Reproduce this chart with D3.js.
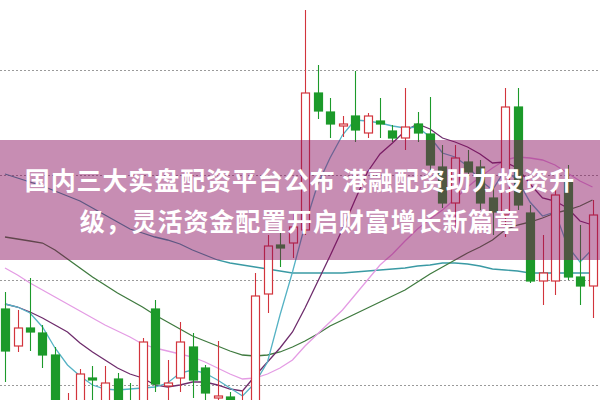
<!DOCTYPE html>
<html><head><meta charset="utf-8">
<script src="https://cdn.jsdelivr.net/npm/d3@7"></script>
<style>html,body{margin:0;padding:0;background:#fff;overflow:hidden}</style>
</head><body><svg id="c" width="600" height="400"></svg>
<script>
// Candle data (price units), index = trading day
const openV  = [91,54,72,67,45,-30,-20,22,-10,21,-2,-10,91,14,22,53,32,2,3,-20,-20,106,155,157,170,307,288,274,284,267,279,269,262,276,266,233,197,238,233,202,185,293,187,119,119,220,123,114];
const closeV = [49,72,68,45,-12,-5,26,20,17,-10,-20,58,16,17,58,20,7,4,-10,-2,104,154,152,173,307,289,276,276,270,284,276,262,273,267,235,197,242,228,197,188,293,195,119,127,205,123,114,185];
const highV  = [108,90,122,75,53,7,31,34,34,27,17,62,100,40,78,67,35,59,8,10,127,165,180,188,390,335,302,284,329,287,302,275,312,288,303,255,255,250,240,220,312,312,195,165,220,235,175,200];
const lowV   = [18,48,49,32,-20,-40,-25,-5,-15,-20,-25,-15,8,-2,8,2,0,-10,-15,-25,-25,87,133,142,165,281,262,263,258,262,262,258,250,258,230,192,167,220,190,165,163,190,117,95,105,120,95,82];
// Moving averages
const ma5  = [96,93,87,73,52,35,24,15,11,10,11,12,13,17,27,30,27,20,12,4,17,38,85,128,175,215,242,265,280,279,277,274,272,273,263,247,243,234,220,210,230,220,198,184,188,154,138,151];
const ma10 = [96,93,88,82,75,68,57,48,40,32,26,22,15,13,15,18,18,15,11,9,24,38,52,68,92,118,144,171,200,228,246,257,269,276,271,262,258,253,246,237,238,232,216,202,199,192,179,175];
const ma20 = [132,125,117,110,103,96,89,82,75,69,63,56,52,49,46,43,38,32,26,21,22,26,32,40,54,66,78,90,105,120,135,146,159,171,181,190,201,213,223,232,240,243,242,240,235,227,219,213];
const ma30 = [163,161,159,157,150,141,132,123,115,107,100,93,85,78,71,64,59,54,49,45,44,45,48,53,59,66,74,80,86,92,98,104,110,118,126,133,140,147,153,160,170,175,178,182,187,190,194,200];
const ma60 = [226,222,218,214,209,204,199,192,185,178,171,167,163,160,156,150,145,140,137,135,133,131,129,127,127,127,127,127,128,129,130,131,132,134,135,137,137,136,134,131,130,129,127,127,127,127,127,127];
const gridTicks = [15,120,225,330];
const titleLines = ["国内三大实盘配资平台公布 港融配资助力投资升","级，灵活资金配置开启财富增长新篇章"];

const W = 600, H = 400;
const svg = d3.select("#c");
const n = openV.length;
const x = d3.scaleLinear().domain([0, n - 1]).range([5, 592.5]);
const y = d3.scaleLinear().domain([0, 400]).range([400, 0]);
const bw = 8;

// grid
const grid = svg.append("g").call(d3.axisRight(y).tickValues(gridTicks).tickSize(W).tickFormat(""));
grid.select(".domain").remove();
grid.selectAll("line").attr("stroke", "#9a9a9a").attr("stroke-dasharray", "2,2").attr("stroke-width", 1);

// MA lines
const maSets = [
  {v: ma60, c: "#3a9aa4"},
  {v: ma30, c: "#3f7a3f"},
  {v: ma20, c: "#e49ce4"},
  {v: ma10, c: "#6e2c6c"},
  {v: ma5,  c: "#55b2c4"}
];
const line = d3.line().x((d, i) => x(i)).y(d => y(d));
maSets.forEach(m => {
  svg.append("path").attr("d", line(m.v)).attr("fill", "none")
     .attr("stroke", m.c).attr("stroke-width", 1.3);
});

// candles
const data = d3.range(n).map(i => ({i, o: openV[i], c: closeV[i], h: highV[i], l: lowV[i]}));
const red = "#d2343c", green = "#1c9a2a";
const g = svg.append("g");
const cg = g.selectAll("g").data(data).join("g");
cg.append("line")
  .attr("x1", d => Math.round(x(d.i)) + 0.5).attr("x2", d => Math.round(x(d.i)) + 0.5)
  .attr("y1", d => y(d.h)).attr("y2", d => y(d.l))
  .attr("stroke", d => d.c >= d.o ? red : green).attr("stroke-width", 1.1);
cg.append("rect")
  .attr("x", d => Math.round(x(d.i)) + 0.5 - bw / 2)
  .attr("width", bw)
  .attr("y", d => y(Math.max(d.o, d.c)))
  .attr("height", d => Math.max(1.5, Math.abs(y(d.o) - y(d.c))))
  .attr("fill", d => d.c >= d.o ? "#fff" : green)
  .attr("stroke", d => d.c >= d.o ? red : green)
  .attr("stroke-width", 1.2);

// banner overlay
svg.append("rect").attr("x", 0).attr("y", 140).attr("width", W).attr("height", 120)
   .attr("fill", "rgb(135,13,94)").attr("fill-opacity", 0.47);
svg.selectAll("text.t").data(titleLines).join("text").attr("class", "t")
   .attr("x", 300).attr("y", (d, i) => 190 + i * 41)
   .attr("text-anchor", "middle")
   .attr("font-family", "'Noto Sans CJK SC', sans-serif")
   .attr("font-weight", "bold").attr("font-size", 25)
   .attr("letter-spacing", 0.9)
   .attr("fill", "#fff")
   .text(d => d);
</script></body></html>
